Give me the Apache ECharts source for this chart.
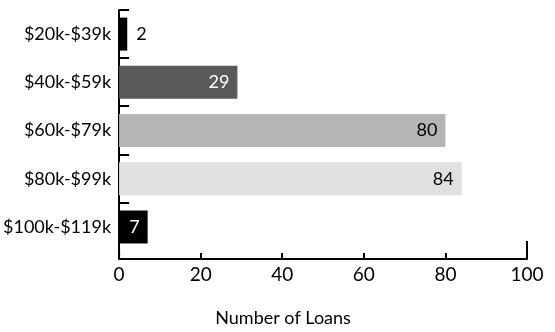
<!DOCTYPE html>
<html>
<head>
<meta charset="utf-8">
<script src="https://cdn.jsdelivr.net/npm/echarts@6/dist/echarts.min.js"></script>
<style>
  html, body { margin: 0; padding: 0; background: #fff; }
  #chart { width: 555px; height: 332px; }
</style>
</head>
<body>
<div id="chart"></div>
<script>
// Loan counts by income bracket
const incomeBrackets = ['$20k-$39k', '$40k-$59k', '$60k-$79k', '$80k-$99k', '$100k-$119k'];
const loanCounts = [2, 29, 80, 84, 7];
const barColors = ['#000000', '#5a5a5a', '#b5b5b5', '#e0e0e0', '#000000'];
const labelColors = ['#000000', '#ffffff', '#000000', '#000000', '#ffffff'];
const labelPositions = ['right', 'insideRight', 'insideRight', 'insideRight', 'insideRight'];
const xTicks = [0, 20, 40, 60, 80, 100];

const FONT = 'Lato, "Noto Sans", sans-serif';
const chart = echarts.init(document.getElementById('chart'), null, { renderer: 'canvas' });

const option = {
  animation: false,
  textStyle: { fontFamily: FONT },
  grid: { left: 119, top: 10, width: 408, height: 255, containLabel: false },
  xAxis: {
    type: 'value',
    min: xTicks[0],
    max: xTicks[xTicks.length - 1],
    interval: 20,
    offset: 8,
    splitLine: { show: false },
    axisLine: { show: true, lineStyle: { color: '#000', width: 2 } },
    axisTick: { show: true, inside: true, length: 6, lineStyle: { color: '#000', width: 2 } },
    axisLabel: { color: '#000', fontSize: 19, margin: 6, fontFamily: FONT },
    name: 'Number of Loans',
    nameLocation: 'middle',
    nameGap: 50,
    nameTextStyle: { color: '#000', fontSize: 18, fontFamily: FONT, padding: [0, 80, 0, 0] }
  },
  yAxis: {
    type: 'category',
    data: incomeBrackets,
    inverse: true,
    axisLine: { show: true, lineStyle: { color: '#000', width: 2 } },
    axisTick: { show: false },
    axisLabel: { color: '#000', fontSize: 18, margin: 8, fontFamily: FONT }
  },
  series: [{
    type: 'bar',
    barWidth: 33,
    data: loanCounts.map((v, i) => ({
      value: v,
      itemStyle: { color: barColors[i] },
      label: {
        show: true,
        position: labelPositions[i],
        distance: labelPositions[i] === 'right' ? 9 : 8,
        color: labelColors[i],
        fontSize: 18,
        fontFamily: FONT
      }
    }))
  }]
};
chart.setOption(option);

// Axis decorations placed from the axes' own scales:
// a tick at the top edge of each category band, the corner join of the two
// axis lines, and a taller cap at the right end of the x axis.
const gridRect = chart.getModel().getComponent('grid', 0).coordinateSystem.getRect();
const axisY = gridRect.y + gridRect.height + 8;
const bandSize = gridRect.height / incomeBrackets.length;
const rightEnd = chart.convertToPixel({ xAxisIndex: 0 }, xTicks[xTicks.length - 1]);
const stroke = { stroke: '#000', lineWidth: 2 };

const decorations = incomeBrackets.map((name) => {
  const center = chart.convertToPixel({ yAxisIndex: 0 }, name);
  const top = Math.round(center - bandSize / 2);
  return {
    type: 'line',
    shape: { x1: gridRect.x, y1: top, x2: gridRect.x + 10, y2: top },
    style: stroke
  };
});
decorations.push(
  {
    type: 'line',
    shape: { x1: gridRect.x, y1: gridRect.y + gridRect.height - 1, x2: gridRect.x, y2: axisY },
    style: stroke
  },
  {
    type: 'line',
    shape: { x1: rightEnd, y1: axisY - 18, x2: rightEnd, y2: axisY },
    style: stroke
  }
);
chart.setOption({ graphic: decorations });
</script>
</body>
</html>
